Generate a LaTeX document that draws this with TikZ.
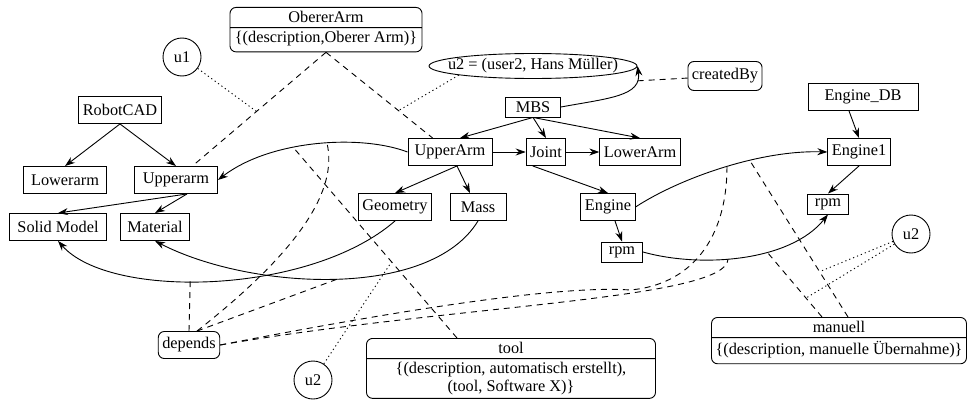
\documentclass[tikz,border=0pt]{standalone}
\usepackage{fontspec}
\setmainfont{Liberation Serif}
\usetikzlibrary{arrows.meta,shapes.geometric,shapes.multipart}

\begin{document}
\begin{tikzpicture}[
      x=1pt,y=-1pt,
      font=\fontsize{16.3}{18}\selectfont,
      box/.style={rectangle,draw=black,line width=0.9pt,minimum height=27pt,inner xsep=4pt,inner ysep=0pt},
      small/.style={box,minimum height=20pt},
      tag/.style={box,rounded corners=6pt},
      user/.style={circle,draw=black,line width=0.9pt,minimum size=38pt,inner sep=0pt},
      record/.style={rectangle split,rectangle split parts=2,draw=black,line width=0.9pt,rounded corners=6pt,inner xsep=4pt,inner ysep=3pt,align=center,anchor=north},
      arrow/.style={-{Stealth[length=10pt,width=7pt]},line width=0.9pt},
      ann/.style={line width=0.9pt,dash pattern=on 6pt off 5pt},
      who/.style={line width=0.9pt,dash pattern=on 1.2pt off 3pt}
    ]
    \useasboundingbox (0,0) rectangle (968,404);

    % RobotCAD tree
    \node[box] (RobotCAD) at (120,110) {RobotCAD};
    \node[box,minimum width=83pt] (Lowerarm) at (65,180) {Lowerarm};
    \node[box,minimum width=83pt] (Upperarm) at (176,180) {Upperarm};
    \node[box,minimum width=97pt] (SolidModel) at (58,227) {Solid Model};
    \node[box,minimum width=69pt] (Material) at (155,227) {Material};

    \draw[arrow] (RobotCAD.south) -- (Lowerarm.north);
    \draw[arrow] (RobotCAD.south) -- (Upperarm.north);
    \draw[arrow] ([xshift=11pt]Upperarm.south) -- (SolidModel.north);
    \draw[arrow] ([xshift=11pt]Upperarm.south) -- (Material.north);

    % MBS tree
    \node[small,minimum width=55pt] (MBS) at (533,107) {MBS};
    \node[box,minimum width=84pt] (UpperArm) at (450,152) {UpperArm};
    \node[box] (Joint) at (546,152) {Joint};
    \node[box] (LowerArm) at (640,152) {LowerArm};
    \node[box] (Geometry) at (395,207) {Geometry};
    \node[box,minimum width=56pt] (Mass) at (478,207) {Mass};
    \node[box] (Engine) at (608,207) {Engine};
    \node[small,minimum width=41pt] (rpmA) at (622,252) {rpm};

    \draw[arrow] (MBS.south) -- ([xshift=10pt]UpperArm.north);
    \draw[arrow] (MBS.south) -- (Joint.north);
    \draw[arrow] (MBS.south) -- (LowerArm.north);
    \draw[arrow] (UpperArm.east) -- (Joint.west);
    \draw[arrow] (Joint.east) -- (LowerArm.west);
    \draw[arrow] ([xshift=7pt]UpperArm.south) -- (Geometry.north);
    \draw[arrow] ([xshift=7pt]UpperArm.south) -- ([xshift=-8pt]Mass.north);
    \draw[arrow] ([xshift=7pt]Joint.south west) -- (Engine.north);
    \draw[arrow] ([xshift=7pt]Engine.south) -- (rpmA.north);

    % Engine database
    \node[box,minimum width=110pt] (EngineDB) at (863,97) {Engine\_DB};
    \node[box] (Engine1) at (859,152) {Engine1};
    \node[small,minimum width=41pt] (rpmB) at (828,204) {rpm};

    \draw[arrow] ([xshift=-14pt]EngineDB.south) -- (Engine1.north);
    \draw[arrow] (Engine1.south) -- (rpmB.north);

    % mappings between the models
    \draw[arrow] (UpperArm.west) .. controls (360,134) and (270,140) .. (Upperarm.east)
      coordinate[pos=0.44] (peakA) coordinate[pos=0.6] (toolEnd);
    \draw[arrow] (Geometry.south) .. controls (310,295) and (110,300) .. (SolidModel.south)
      coordinate[pos=0.56] (lowA);
    \draw[arrow] (Mass.south) .. controls (430,300) and (250,290) .. (Material.south)
      coordinate[pos=0.49] (lowB);
    \draw[arrow] (Engine.east) .. controls (680,178) and (760,150) .. (Engine1.west)
      coordinate[pos=0.52] (midC) coordinate[pos=0.63] (midD);
    \draw[arrow] (rpmA.east) .. controls (700,268) and (790,262) .. (rpmB.south)
      coordinate[pos=0.43] (midE) coordinate[pos=0.62] (midF);

    % users and annotations
    \node[user] (u1) at (182,57) {u1};
    \node[user] (u2a) at (313,380) {u2};
    \node[user] (u2b) at (911,234) {u2};
    \node[ellipse,draw=black,line width=0.9pt,minimum width=208pt,minimum height=25pt,inner sep=0pt]
      (u2full) at (533,66) {\makebox[0pt]{u2 = (user2, Hans Müller)}};
    \node[tag,minimum height=29pt] (createdBy) at (725,76) {createdBy};
    \node[tag] (depends) at (189,345) {depends};

    \node[record,minimum width=192pt] (ObererArm) at (326,7)
      {\rule[-2pt]{0pt}{12pt}ObererArm\nodepart{two}\rule[-6pt]{0pt}{16pt}\{(description,Oberer Arm)\}};
    \node[record,minimum width=289pt] (tool) at (511,338)
      {\rule[-2pt]{0pt}{12pt}tool\nodepart{two}\{(description, automatisch erstellt),\\(tool, Software X)\}};
    \node[record,minimum width=254pt] (manuell) at (839,317)
      {\rule[-2pt]{0pt}{12pt}manuell\nodepart{two}\rule[-6pt]{0pt}{16pt}\{(description, manuelle Übernahme)\}};

    \draw[arrow] (MBS.east) .. controls (610,98) and (642,96) .. (u2full.east)
      coordinate[pos=0.8] (midG);
    \draw[ann] (createdBy) -- (midG);

    \draw[ann] (ObererArm.south) -- (Upperarm) coordinate[pos=0.52] (oa1);
    \draw[ann] (ObererArm.south) -- (UpperArm) coordinate[pos=0.68] (oa2);
    \draw[who] (u1) -- (oa1);
    \draw[who] (u2full.187) -- (oa2);

    \draw[ann] (depends.north) -- (lowA);
    \draw[ann] ([xshift=8pt]depends.north) .. controls (300,250) and (338,190) .. (peakA);
    \draw[ann] ([xshift=8pt]depends.north) -- (lowB);
    \draw[ann] (depends.east) .. controls (400,310) and (560,285) .. (630,290)
      .. controls (690,285) and (727,240) .. (midC);
    \draw[ann] (depends.east) .. controls (450,305) and (727,300) .. (midE);

    \draw[ann] ([xshift=-54pt]tool.north) -- (toolEnd) coordinate[pos=0.4] (tl);
    \draw[who] (u2a) -- (tl);

    \draw[ann] ([xshift=9pt]manuell.north) -- (midD) coordinate[pos=0.29] (man1);
    \draw[ann] ([xshift=-17pt]manuell.north) -- (midF) coordinate[pos=0.29] (man2);
    \draw[who] (u2b) -- (man1);
    \draw[who] (u2b) -- (man2);

  \end{tikzpicture}
\end{document}
